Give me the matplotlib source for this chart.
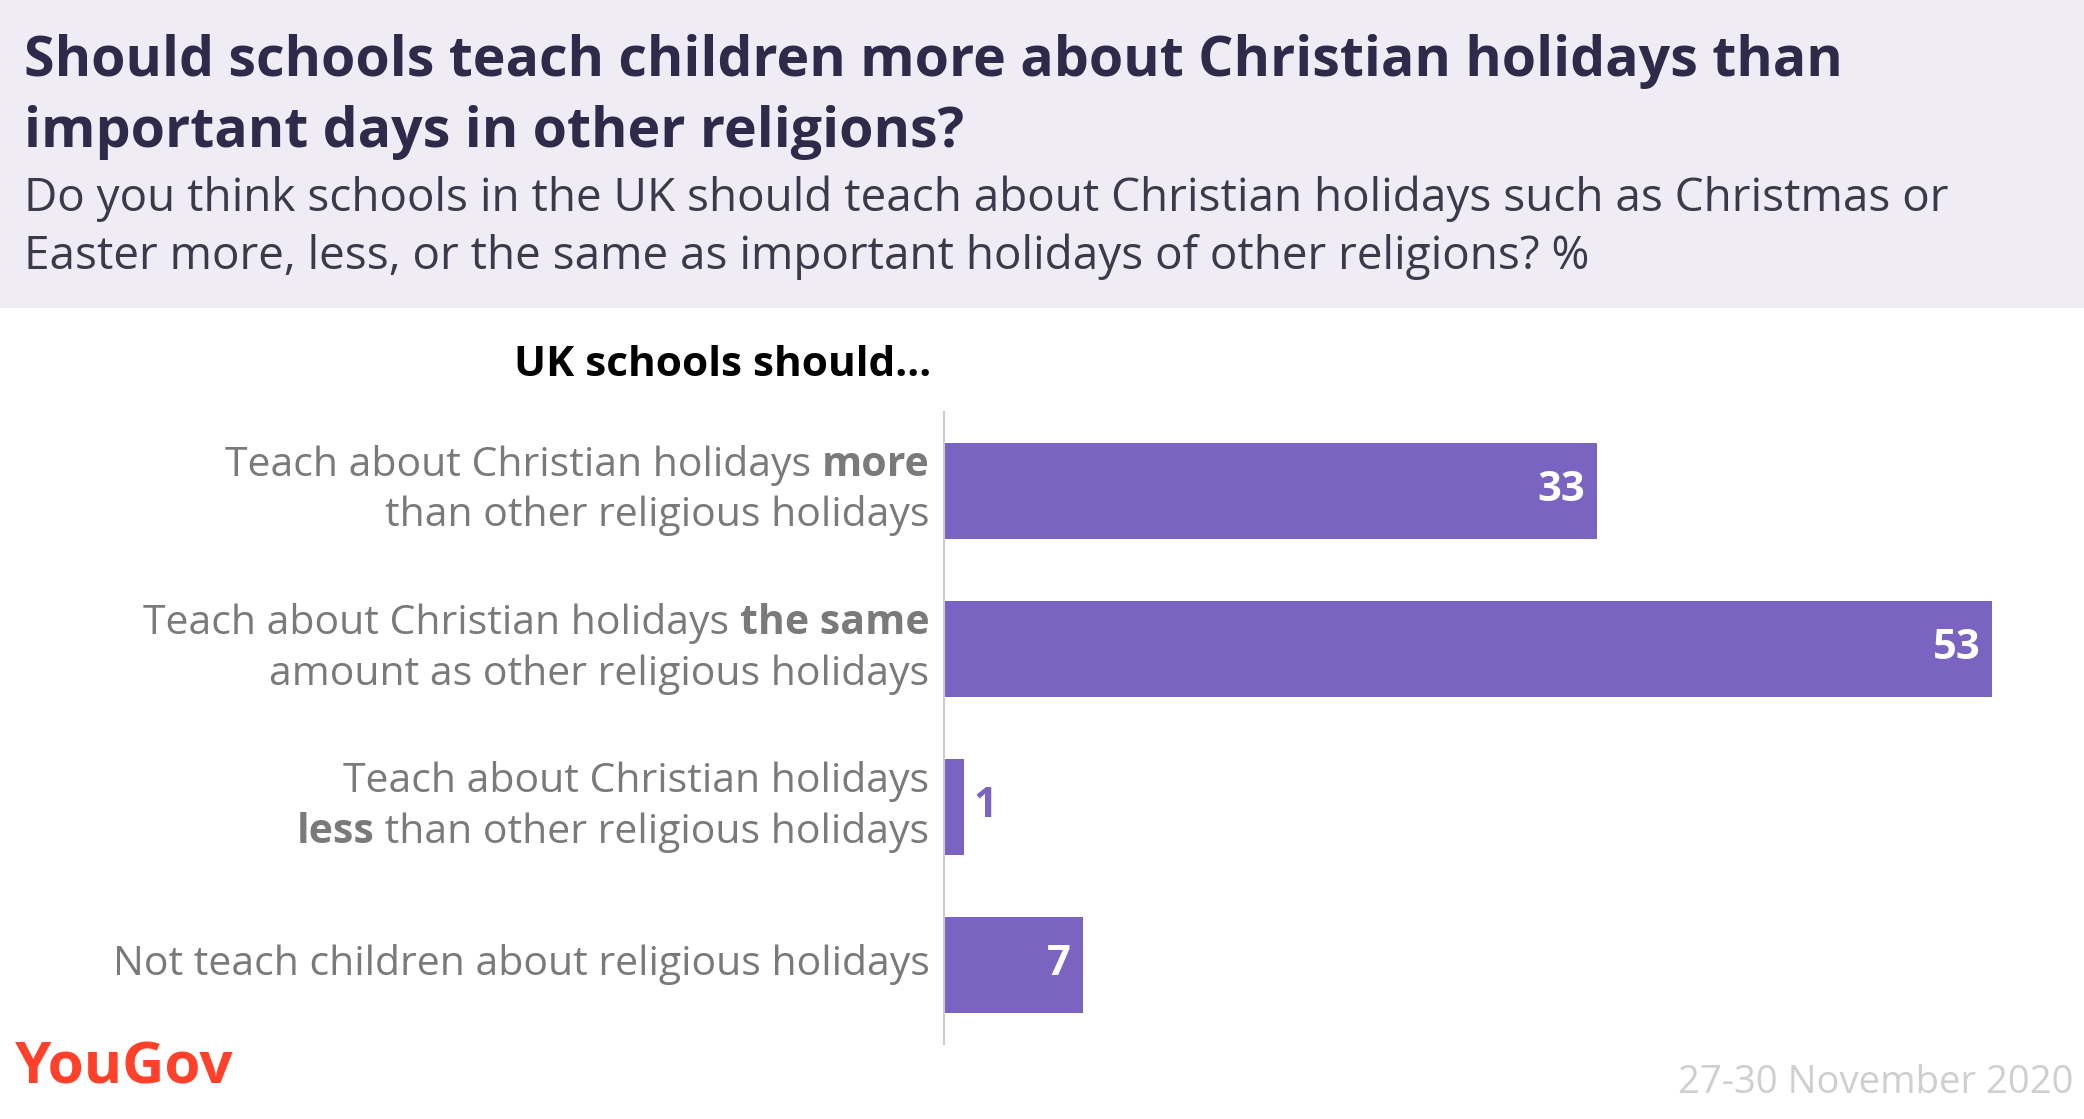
import matplotlib.pyplot as plt
from matplotlib.patches import Rectangle

plt.rcParams['font.family'] = ['Open Sans', 'DejaVu Sans']

# answer labels as (text, bold) pieces per line
labels = [
    [[("Teach about Christian holidays ", False), ("more", True)],
     [("than other religious holidays", False)]],
    [[("Teach about Christian holidays ", False), ("the same", True)],
     [("amount as other religious holidays", False)]],
    [[("Teach about Christian holidays", False)],
     [("less", True), (" than other religious holidays", False)]],
    [[("Not teach children about religious holidays", False)]],
]
values = [33, 53, 1, 7]

title = "Should schools teach children more about Christian holidays than\nimportant days in other religions?"
subtitle = ("Do you think schools in the UK should teach about Christian holidays such as Christmas or\n"
            "Easter more, less, or the same as important holidays of other religions? %")
BAR = "#7b63c1"
GREY = "#7a7a7a"

fig = plt.figure(figsize=(20.84, 11.19), dpi=100)
fig.patches.append(Rectangle((0, 0.726), 1, 0.274, transform=fig.transFigure,
                             color="#efecf6", zorder=0))
fig.text(0.0115, 0.945, title.split("\n")[0], fontsize=40, fontweight='bold', color="#2d2a4a",
         va='center')
fig.text(0.0115, 0.882, title.split("\n")[1], fontsize=40, fontweight='bold', color="#2d2a4a",
         va='center')
fig.text(0.0115, 0.822, subtitle.split("\n")[0], fontsize=33, color="#3a3a4a", va='center')
fig.text(0.0115, 0.771, subtitle.split("\n")[1], fontsize=33, color="#3a3a4a", va='center')
fig.text(0.447, 0.673, "UK schools should...", fontsize=30.5, fontweight='bold',
         color='black', ha='right', va='center')

ax = fig.add_axes([0.453, 0.067, 0.54, 0.565])
ypos = list(range(len(values)))
ax.barh(ypos, values, height=0.61, color=BAR)
ax.set_xlim(0, 53 / (0.956 - 0.453) * 0.54)
ax.set_ylim(3.5, -0.5)
ax.set_xticks([])
ax.set_yticks([])
for s in ['top', 'right', 'bottom']:
    ax.spines[s].set_visible(False)
ax.spines['left'].set_color('#cccccc')
ax.spines['left'].set_linewidth(1.5)

for y, v in zip(ypos, values):
    if v > 3:
        ax.text(v - 0.6, y, str(v), color='white', fontsize=30, fontweight='bold',
                ha='right', va='center')
    else:
        ax.text(v + 0.5, y, str(v), color=BAR, fontsize=30, fontweight='bold',
                ha='left', va='center')

renderer = fig.canvas.get_renderer()
xr = 0.446
for y, lines in zip(ypos, labels):
    n = len(lines)
    yc = ax.transData.transform((0, y))[1] / fig.bbox.height
    for i, pieces in enumerate(lines):
        ly = yc + (n - 1) / 2 * 0.045 - i * 0.045
        x = xr
        for txt, bold in reversed(pieces):
            t = fig.text(x, ly, txt, fontsize=29.5, color=GREY, ha='right', va='center',
                         fontweight='bold' if bold else 'normal')
            bb = t.get_window_extent(renderer)
            x = bb.x0 / fig.bbox.width

fig.text(0.007, 0.045, "YouGov", fontsize=42, color="#ff412c", fontweight='bold', va='center')
fig.text(0.995, 0.032, "27-30 November 2020", fontsize=27.5, color="#cfcfcf",
         ha='right', va='center')

fig.savefig("out.png", dpi=100)
